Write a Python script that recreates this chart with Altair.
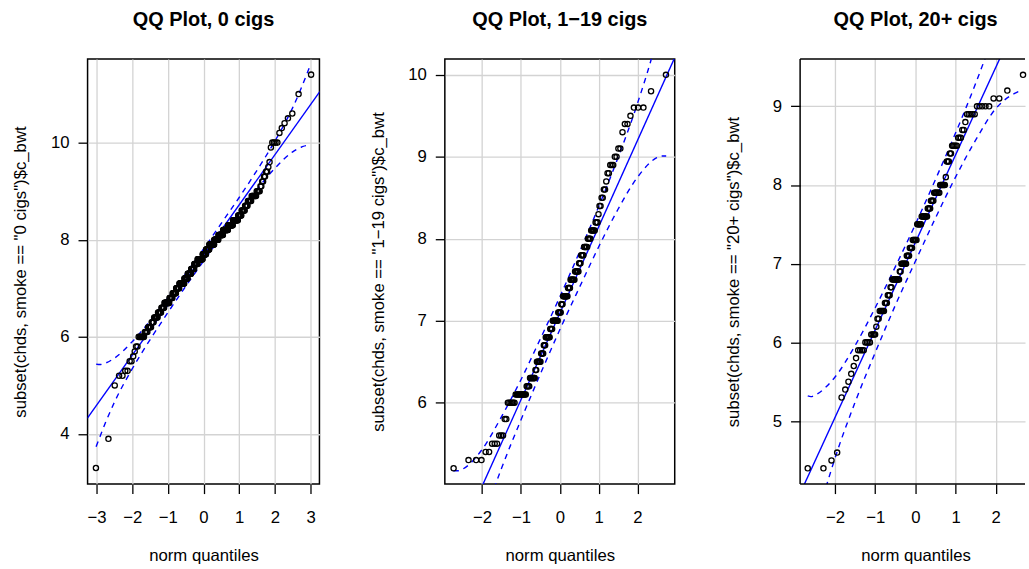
import altair as alt
import pandas as pd

FONT = "Liberation Sans"
BLUE = "#0000FF"
GRID = "#D3D3D3"
AX_FS = 16.8
H = 427

# Birth weight (lb) levels and the number of babies at each level, per smoking group
levels_0 = [3.3, 3.9, 5.0, 5.2, 5.3, 5.5, 5.6, 5.7, 5.8,
            6.0, 6.1, 6.2, 6.3, 6.4, 6.5, 6.6, 6.7, 6.8, 6.9,
            7.0, 7.1, 7.2, 7.3, 7.4, 7.5, 7.6, 7.7, 7.8, 7.9,
            8.0, 8.1, 8.2, 8.3, 8.4, 8.5, 8.6, 8.7, 8.8, 8.9,
            9.0, 9.1, 9.2, 9.3, 9.4, 9.5, 9.6, 9.9, 10.0,
            10.2, 10.3, 10.4, 10.5, 10.6, 11.0, 11.4]
counts_0 = [1, 1, 1, 2, 2, 2, 1, 1, 2,
            6, 4, 5, 4, 7, 7, 7, 13, 9, 11,
            11, 18, 13, 14, 13, 14, 22, 15, 14, 21,
            17, 18, 18, 16, 15, 9, 8, 6, 7, 8,
            5, 2, 2, 2, 2, 1, 1, 1, 4,
            1, 1, 1, 1, 1, 1, 1]

levels_1 = [5.2, 5.3, 5.4, 5.5, 5.6, 5.8,
            6.0, 6.1, 6.2, 6.3, 6.4, 6.5, 6.6, 6.7, 6.8, 6.9,
            7.0, 7.1, 7.2, 7.3, 7.4, 7.5, 7.6, 7.7, 7.8, 7.9,
            8.0, 8.1, 8.2, 8.3, 8.4, 8.5, 8.6, 8.7, 8.8, 8.9,
            9.0, 9.1, 9.3, 9.4, 9.5, 9.6, 9.8, 10.0]
counts_1 = [1, 3, 2, 3, 3, 2,
            6, 11, 4, 7, 2, 6, 4, 3, 7, 4,
            9, 5, 3, 8, 4, 7, 6, 3, 4, 5,
            4, 5, 3, 1, 2, 2, 2, 1, 2, 3,
            2, 2, 1, 2, 1, 3, 1, 1]

levels_2 = [4.4, 4.5, 4.6, 5.3, 5.4, 5.5, 5.6, 5.7, 5.8, 5.9,
            6.0, 6.1, 6.2, 6.3, 6.4, 6.5, 6.6, 6.7, 6.8, 6.9,
            7.0, 7.1, 7.2, 7.3, 7.5, 7.6, 7.7, 7.8, 7.9,
            8.0, 8.1, 8.3, 8.4, 8.5, 8.6, 8.7, 8.8, 8.9,
            9.0, 9.1, 9.2, 9.4]
counts_2 = [2, 1, 1, 1, 1, 1, 1, 1, 1, 4,
            4, 4, 1, 2, 5, 3, 3, 2, 9, 2,
            7, 4, 4, 6, 6, 8, 4, 4, 7,
            6, 1, 3, 2, 5, 3, 2, 1, 5,
            5, 2, 1, 1]

# Quartile reference lines (end points in data units)
line_q_0, line_b_0 = [-3.26, 3.27], [4.32, 11.06]
line_q_1, line_b_1 = [-2.96, 2.96], [3.97, 10.21]
line_q_2, line_b_2 = [-2.87, 2.87], [4.08, 10.46]

# Pointwise 95% envelopes
band_q_0 = [-3.01, -2.9, -2.75, -2.5, -2.0, -1.5, -1.0, -0.5, 0.0, 0.5, 1.0, 1.5, 2.0, 2.5, 2.75, 2.9, 3.01]
band_up_0 = [5.44, 5.43, 5.46, 5.56, 5.90, 6.33, 6.81, 7.30, 7.81, 8.34, 8.87, 9.43, 10.03, 10.72, 11.14, 11.42, 11.63]
band_lo_0 = [3.74, 3.95, 4.23, 4.65, 5.34, 5.94, 6.50, 7.04, 7.56, 8.07, 8.56, 9.04, 9.47, 9.81, 9.91, 9.94, 9.93]

band_q_1 = [-2.74, -2.6, -2.5, -2.0, -1.5, -1.0, -0.5, 0.0, 0.5, 1.0, 1.5, 2.0, 2.5, 2.6, 2.74]
band_up_1 = [5.17, 5.17, 5.19, 5.43, 5.83, 6.28, 6.78, 7.29, 7.83, 8.39, 8.99, 9.65, 10.45, 10.65, 10.94]
band_lo_1 = [3.24, 3.53, 3.73, 4.53, 5.20, 5.79, 6.35, 6.89, 7.40, 7.90, 8.36, 8.75, 8.99, 9.01, 9.01]

band_q_2 = [-2.68, -2.6, -2.5, -2.0, -1.5, -1.0, -0.5, 0.0, 0.5, 1.0, 1.5, 2.0, 2.5, 2.6, 2.66]
band_up_2 = [5.32, 5.31, 5.33, 5.56, 5.96, 6.44, 6.96, 7.50, 8.07, 8.66, 9.29, 10.00, 10.88, 11.09, 11.22]
band_lo_2 = [3.26, 3.44, 3.65, 4.53, 5.24, 5.87, 6.47, 7.03, 7.58, 8.10, 8.57, 8.97, 9.17, 9.19, 9.19]


def qq_panel(title, ylab, levels, counts, xdom, ydom, xticks, yticks, width,
             line_q, line_b, band_q, band_up, band_lo,
             framed=True, title_dx=0, xtitle_x=None):
    pts = pd.DataFrame({"bwt": [v for v, c in zip(levels, counts) for _ in range(c)]})
    ref = pd.DataFrame({"q": line_q, "bwt": line_b})
    band = pd.DataFrame({
        "q": band_q + band_q,
        "bwt": band_up + band_lo,
        "side": ["upper"] * len(band_q) + ["lower"] * len(band_q),
    })

    xs = alt.Scale(domain=xdom, nice=False, zero=False)
    ys = alt.Scale(domain=ydom, nice=False, zero=False)
    xaxis = alt.Axis(
        values=xticks, format="d", grid=True, gridColor=GRID, gridWidth=1.3,
        domain=False, ticks=True, tickColor="black", tickSize=9.6, tickWidth=1.3,
        labelFont=FONT, labelFontSize=AX_FS, labelColor="black", labelPadding=29.4,
        labelBaseline="alphabetic", labelFlush=False, labelOverlap=False,
        title="norm quantiles", titleFont=FONT, titleFontSize=AX_FS,
        titleFontWeight="normal", titleColor="black",
        titleX=(width / 2 if xtitle_x is None else xtitle_x), titleY=77,
        titleAlign="center", titleBaseline="alphabetic", titleAngle=0,
    )
    yaxis = alt.Axis(
        values=yticks, format="d", grid=True, gridColor=GRID, gridWidth=1.3,
        domain=False, ticks=True, tickColor="black", tickSize=9.6, tickWidth=1.3,
        labelFont=FONT, labelFontSize=AX_FS, labelColor="black", labelPadding=9,
        labelAlign="right", labelBaseline="middle", labelFlush=False, labelOverlap=False,
        title=ylab, titleFont=FONT, titleFontSize=AX_FS, titleFontWeight="normal",
        titleColor="black", titleX=-62, titleY=H / 2, titleAngle=270,
        titleAlign="center", titleBaseline="alphabetic",
    )
    X = alt.X("q:Q", scale=xs, axis=xaxis)
    Y = alt.Y("bwt:Q", scale=ys, axis=yaxis)

    points = (
        alt.Chart(pts)
        .transform_window(rank="row_number()", sort=[alt.SortField("bwt")])
        .transform_joinaggregate(n="count()")
        .transform_calculate(q="quantileNormal((datum.rank - 0.5) / datum.n)")
        .mark_point(shape="circle", filled=False, size=27, strokeWidth=1.35,
                    color="black", opacity=1)
        .encode(x=X, y=Y)
    )
    ref_line = alt.Chart(ref).mark_line(color=BLUE, strokeWidth=1.4, clip=True).encode(x=X, y=Y)
    envelope = (
        alt.Chart(band)
        .mark_line(color=BLUE, strokeWidth=1.4, strokeDash=[5.5, 5],
                   interpolate="monotone", clip=True)
        .encode(x=X, y=Y, detail="side:N")
    )

    layers = [envelope, ref_line, points]
    if framed:
        view = alt.ViewBackground(stroke="black", strokeWidth=1.5, fill="white")
    else:
        view = alt.ViewBackground(stroke="transparent", fill="white")
        edge = pd.DataFrame({"k": [0]})
        left = alt.Chart(edge).mark_rule(color="black", strokeWidth=1.5).encode(
            x=alt.value(0), y=alt.value(0), y2=alt.value(H))
        top = alt.Chart(edge).mark_rule(color="black", strokeWidth=1.5).encode(
            x=alt.value(0), x2=alt.value(width), y=alt.value(0))
        bottom = alt.Chart(edge).mark_rule(color="black", strokeWidth=1.5).encode(
            x=alt.value(0), x2=alt.value(width), y=alt.value(H))
        layers += [left, top, bottom]

    return alt.layer(*layers).properties(
        width=width, height=H, view=view,
        title=alt.TitleParams(
            text=title, font=FONT, fontSize=20, fontWeight="bold", color="black",
            anchor="middle", frame="group", baseline="alphabetic", offset=13, dx=title_dx,
        ),
    )


p0 = qq_panel("QQ Plot, 0 cigs", 'subset(chds, smoke == "0 cigs")$c_bwt',
              levels_0, counts_0, [-3.25, 3.25], [2.97, 11.72],
              [-3, -2, -1, 0, 1, 2, 3], [4, 6, 8, 10], 233,
              line_q_0, line_b_0, band_q_0, band_up_0, band_lo_0)
p1 = qq_panel("QQ Plot, 1\u221219 cigs", 'subset(chds, smoke == "1\u221219 cigs")$c_bwt',
              levels_1, counts_1, [-2.96, 2.96], [5.008, 10.192],
              [-2, -1, 0, 1, 2], [6, 7, 8, 9, 10], 231,
              line_q_1, line_b_1, band_q_1, band_up_1, band_lo_1)
p2 = qq_panel("QQ Plot, 20+ cigs", 'subset(chds, smoke == "20+ cigs")$c_bwt',
              levels_2, counts_2, [-2.87, 2.73], [4.2, 9.6],
              [-2, -1, 0, 1, 2], [5, 6, 7, 8, 9], 226,
              line_q_2, line_b_2, band_q_2, band_up_2, band_lo_2,
              framed=False, title_dx=3, xtitle_x=116)

chart = (
    alt.hconcat(p0, p1, p2, spacing=126, bounds="flush")
    .properties(padding={"left": 12, "top": 7, "right": 0, "bottom": 0},
                background="white")
)

chart.save("out.html", embed_options={"renderer": "svg", "actions": False})
